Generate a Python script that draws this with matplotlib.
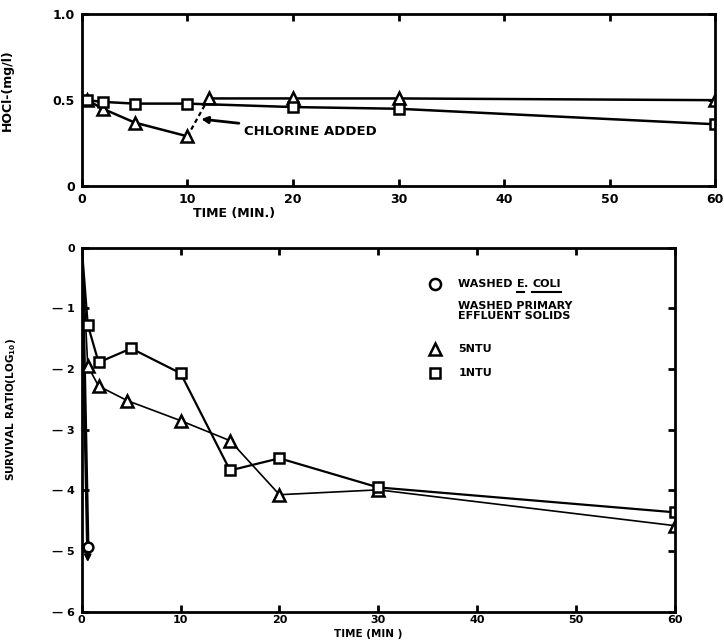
import numpy as np
import matplotlib
matplotlib.use("Agg")
from matplotlib import pyplot as plt

# --- dati pannello superiore: HOCl (mg/l) vs tempo
t_top_tri = [0.5, 2, 5, 10, 12, 20, 30, 60]
hocl_tri = [0.50, 0.45, 0.37, 0.29, 0.51, 0.51, 0.51, 0.50]
t_top_sq = [0.5, 2, 5, 10, 20, 30, 60]
hocl_sq = [0.50, 0.49, 0.48, 0.48, 0.46, 0.45, 0.36]

# --- dati pannello inferiore: survival ratio (log10) vs tempo
t_sq = [0, 0.6, 1.7, 5, 10, 15, 20, 30, 60]
surv_sq = [0, -1.27, -1.89, -1.66, -2.07, -3.67, -3.47, -3.95, -4.36]
t_tri = [0, 0.6, 1.7, 4.6, 10, 15, 20, 30, 60]
surv_tri = [0, -1.95, -2.28, -2.52, -2.85, -3.18, -4.07, -3.99, -4.58]
t_coli = [0, 0.6]
surv_coli = [0, -4.93]

plt.rcParams['font.family'] = 'DejaVu Sans'
plt.rcParams['font.weight'] = 'bold'

fig = plt.figure(figsize=(7.24, 6.4), dpi=100)
ax1 = fig.add_axes([0.113, 0.709, 0.875, 0.269])
ax2 = fig.add_axes([0.113, 0.044, 0.819, 0.569])

mk = dict(markerfacecolor='white', markeredgecolor='black', markeredgewidth=1.8, color='black')

# pannello superiore
i = t_top_tri.index(10)
ax1.plot(t_top_tri[:i + 1], hocl_tri[:i + 1], lw=1.8, color='black')
ax1.plot(t_top_tri[i:i + 2], hocl_tri[i:i + 2], lw=1.6, ls=(0, (2, 1.5)), color='black')
ax1.plot(t_top_tri[i + 1:], hocl_tri[i + 1:], lw=1.8, color='black')
ax1.plot(t_top_tri, hocl_tri, ls='none', marker='^', ms=8, **mk)
ax1.plot(t_top_sq, hocl_sq, lw=1.8, marker='s', ms=7, **mk)
ax1.annotate("CHLORINE ADDED", xy=(11.3, 0.39), xytext=(15.4, 0.32), fontsize=9.5,
             fontweight='bold', va='center',
             arrowprops=dict(arrowstyle='-|>', color='black', lw=2, shrinkA=2, shrinkB=0))
ax1.set_xlim(0, 60)
ax1.set_ylim(0, 1.0)
ax1.set_xticks([0, 10, 20, 30, 40, 50, 60])
ax1.set_yticks([0, 0.5, 1.0])
ax1.set_yticklabels(["0", "0.5", "1.0"])
ax1.set_ylabel("HOCl-(mg/l)", fontsize=9, fontweight='bold')
ax1.yaxis.set_label_coords(-0.107, 0.56)
fig.text(0.323, 0.667, "TIME (MIN.)", fontsize=9, fontweight='bold', ha='center', va='center')

# pannello inferiore
ax2.plot(t_coli, surv_coli, lw=2.5, color='black')
ax2.plot(t_coli[-1:], surv_coli[-1:], ls='none', marker='o', ms=7, **mk)
ax2.annotate("", xy=(t_coli[-1], surv_coli[-1] - 0.25), xytext=(t_coli[-1], surv_coli[-1] - 0.08),
             arrowprops=dict(arrowstyle='-|>', color='black', lw=1.5, shrinkA=0, shrinkB=0))
ax2.plot(t_tri, surv_tri, lw=1.2, **mk)
ax2.plot(t_tri[1:], surv_tri[1:], ls='none', marker='^', ms=8, **mk)
ax2.plot(t_sq, surv_sq, lw=1.6, **mk)
ax2.plot(t_sq[1:], surv_sq[1:], ls='none', marker='s', ms=7, **mk)
ax2.set_xlim(0, 60)
ax2.set_ylim(-6, 0)
ax2.set_xticks([0, 10, 20, 30, 40, 50, 60])
ax2.set_yticks([0, -1, -2, -3, -4, -5, -6])
ax2.set_yticklabels(["0", "\u2014 1", "\u2014 2", "\u2014 3", "\u2014 4", "\u2014 5", "\u2014 6"])
ax2.set_ylabel(r"SURVIVAL RATIO(LOG$_{\mathbf{10}}$)", fontsize=7.5, fontweight='bold')
ax2.yaxis.set_label_coords(-0.108, 0.555)
fig.text(0.508, 0.009, "TIME (MIN )", fontsize=7.5, fontweight='bold', ha='center', va='center')

for ax in (ax1, ax2):
    for s in ax.spines.values():
        s.set_linewidth(2)
    ax.tick_params(direction='in', length=5, width=2, top=True, right=True,
                   labelsize=9, pad=5)
    for lab in ax.get_xticklabels() + ax.get_yticklabels():
        lab.set_fontweight('bold')
ax2.tick_params(labelsize=8)
ax2.tick_params(axis='x', pad=2)

# legenda disegnata a mano
lx, tx = 0.595, 0.635
ax2.plot([lx], [0.9], transform=ax2.transAxes, ls='none', marker='o', ms=8, clip_on=False, **mk)
ax2.plot([lx], [0.722], transform=ax2.transAxes, ls='none', marker='^', ms=8, clip_on=False, **mk)
ax2.plot([lx], [0.655], transform=ax2.transAxes, ls='none', marker='s', ms=7, clip_on=False, **mk)
fs = 8
t1 = ax2.text(tx, 0.9, "WASHED ", transform=ax2.transAxes, fontsize=fs, fontweight='bold', va='center')
ax2.text(tx, 0.825, "WASHED PRIMARY\nEFFLUENT SOLIDS", transform=ax2.transAxes, fontsize=fs,
         fontweight='bold', va='center', linespacing=1.0)
ax2.text(tx, 0.722, "5NTU", transform=ax2.transAxes, fontsize=fs, fontweight='bold', va='center')
ax2.text(tx, 0.655, "1NTU", transform=ax2.transAxes, fontsize=fs, fontweight='bold', va='center')

fig.canvas.draw()
r = fig.canvas.get_renderer()
inv = ax2.transAxes.inverted()
x0 = inv.transform(t1.get_window_extent(r).get_points())[1][0]
t2 = ax2.text(x0, 0.9, "E", transform=ax2.transAxes, fontsize=fs, fontweight='bold', va='center')
fig.canvas.draw()
b2 = inv.transform(t2.get_window_extent(r).get_points())
t3 = ax2.text(b2[1][0], 0.9, ". ", transform=ax2.transAxes, fontsize=fs, fontweight='bold', va='center')
fig.canvas.draw()
b3 = inv.transform(t3.get_window_extent(r).get_points())
t4 = ax2.text(b3[1][0], 0.9, "COLI", transform=ax2.transAxes, fontsize=fs, fontweight='bold', va='center')
fig.canvas.draw()
b4 = inv.transform(t4.get_window_extent(r).get_points())
uy = 0.9 - 0.022
for b in (b2, b4):
    ax2.plot([b[0][0], b[1][0]], [uy, uy], transform=ax2.transAxes, color='black', lw=1.5, clip_on=False)

fig.savefig("out.png", dpi=100)
